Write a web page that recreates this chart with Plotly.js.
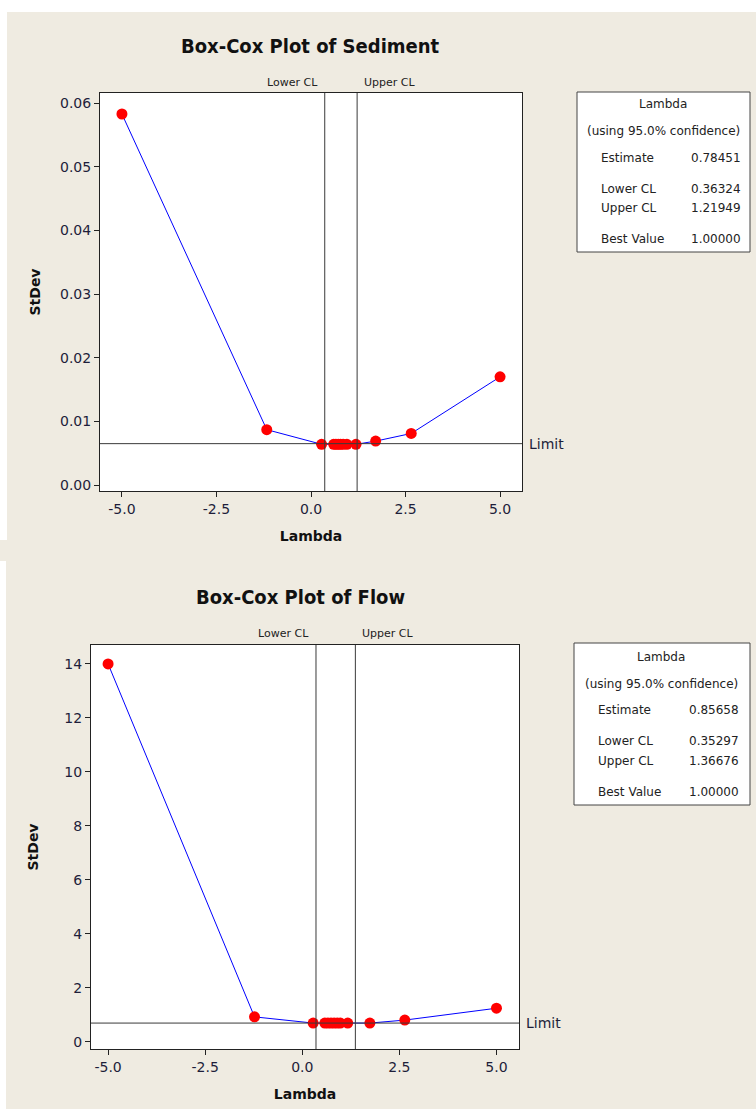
<!DOCTYPE html>
<html>
<head>
<meta charset="utf-8">
<script src="https://cdn.plot.ly/plotly-3.0.1.min.js"></script>
<style>html,body{margin:0;padding:0;background:#fff;}#chart{width:756px;height:1109px;}</style>
</head>
<body>
<div id="chart"></div>
<script>
// ---- Data ----
var sedLambda = [-5, -1.17, 0.28, 0.60, 0.66, 0.72, 0.78, 0.85, 0.95, 1.19, 1.71, 2.65, 5];
var sedStdev  = [0.0583, 0.0087, 0.0064, 0.0064, 0.0064, 0.0064, 0.0064, 0.0064, 0.0064, 0.0064, 0.0069, 0.0081, 0.0170];
var sedCL = [0.36324, 1.21949];
var sedLimit = 0.0065;

var flowLambda = [-5, -1.23, 0.28, 0.58, 0.66, 0.74, 0.82, 0.90, 0.98, 1.17, 1.74, 2.64, 5];
var flowStdev  = [14.0, 0.93, 0.70, 0.70, 0.70, 0.70, 0.70, 0.70, 0.70, 0.70, 0.70, 0.81, 1.25];
var flowCL = [0.35297, 1.36676];
var flowLimit = 0.70;

var titles = ["Box-Cox Plot of Sediment", "Box-Cox Plot of Flow"];
var xTickVals = [-5, -2.5, 0, 2.5, 5];
var xTickText = ["-5.0", "-2.5", "0.0", "2.5", "5.0"];
var sedYTicks = [0, 0.01, 0.02, 0.03, 0.04, 0.05, 0.06];
var flowYTicks = [0, 2, 4, 6, 8, 10, 12, 14];

var legendHeader = ["Lambda", "(using 95.0% confidence)"];
var legendLabels = ["Estimate", "Lower CL", "Upper CL", "Best Value"];
var sedLegendValues = ["0.78451", "0.36324", "1.21949", "1.00000"];
var flowLegendValues = ["0.85658", "0.35297", "1.36676", "1.00000"];

// ---- Helpers ----
var W = 756, H = 1109;
function px(x){ return x / W; }
function py(y){ return 1 - y / H; }

var beige = "#EFEBE1";
var tickColor = "#1e1e3a";
var tickFont = {family: "DejaVu Sans, Verdana, sans-serif", size: 14, color: tickColor};
var titleFont = {family: "DejaVu Sans Condensed, Liberation Sans Narrow, Arial Narrow, DejaVu Sans, sans-serif", size: 20, color: "#111"};
var axTitleFont = {family: "DejaVu Sans, Verdana, sans-serif", size: 14, color: "#111", weight: "bold"};
var smallFont = {family: "DejaVu Sans, Verdana, sans-serif", size: 12, color: "#222"};

var markerStyle = {color: "#FF0000", size: 11};
var lineStyle = {color: "#0000FF", width: 1};

var data = [
  {x: sedLambda, y: sedStdev, xaxis: "x", yaxis: "y", mode: "lines+markers", type: "scatter",
   line: lineStyle, marker: markerStyle, showlegend: false, hoverinfo: "x+y"},
  {x: flowLambda, y: flowStdev, xaxis: "x2", yaxis: "y2", mode: "lines+markers", type: "scatter",
   line: lineStyle, marker: markerStyle, showlegend: false, hoverinfo: "x+y"}
];

function xAxis(domain, range, anchor){
  return {
    domain: domain, range: range, anchor: anchor,
    tickvals: xTickVals, ticktext: xTickText,
    showgrid: false, zeroline: false,
    showline: true, mirror: true, linecolor: "#222", linewidth: 1,
    ticks: "outside", ticklen: 5, tickcolor: "#222",
    tickfont: tickFont,
    title: {text: "Lambda", font: axTitleFont, standoff: 15}
  };
}
function yAxis(domain, range, anchor, tickvals, fmt, standoff){
  return {
    domain: domain, range: range, anchor: anchor,
    tickvals: tickvals, tickformat: fmt,
    showgrid: false, zeroline: false,
    showline: true, mirror: true, linecolor: "#222", linewidth: 1,
    ticks: "outside", ticklen: 5, tickcolor: "#222",
    tickfont: tickFont,
    title: {text: "StDev", font: axTitleFont, standoff: standoff}
  };
}

var shapes = [
  // white margins of the screenshot
  {type: "rect", xref: "paper", yref: "paper", x0: 0, x1: 1, y0: py(12), y1: 1, fillcolor: "#fff", line: {width: 0}, layer: "below"},
  {type: "rect", xref: "paper", yref: "paper", x0: 0, x1: px(7), y0: py(540), y1: 1, fillcolor: "#fff", line: {width: 0}, layer: "below"},
  {type: "rect", xref: "paper", yref: "paper", x0: 0, x1: px(6), y0: 0, y1: py(561), fillcolor: "#fff", line: {width: 0}, layer: "below"},
  // legend boxes
  {type: "rect", xref: "paper", yref: "paper", x0: px(577), x1: px(750), y0: py(252), y1: py(92), fillcolor: "#fff", line: {color: "#444", width: 1}},
  {type: "rect", xref: "paper", yref: "paper", x0: px(574), x1: px(750), y0: py(805), y1: py(643), fillcolor: "#fff", line: {color: "#444", width: 1}}
];

var annotations = [];

function addPlotDecor(xa, ya, cl, limit, titleText, titleX, titleY, clLabelY){
  var xr = xa, yr = ya;
  cl.forEach(function(v){
    shapes.push({type: "line", xref: xr, yref: yr + " domain", x0: v, x1: v, y0: 0, y1: 1, line: {color: "#3a3a3a", width: 1}});
  });
  shapes.push({type: "line", xref: xr + " domain", yref: yr, x0: 0, x1: 1, y0: limit, y1: limit, line: {color: "#3a3a3a", width: 1}});
  annotations.push({text: "Lower CL", xref: xr, yref: "paper", x: cl[0], y: py(clLabelY), xanchor: "right", yanchor: "middle", xshift: -5, showarrow: false, font: {family: smallFont.family, size: 11, color: "#222"}});
  annotations.push({text: "Upper CL", xref: xr, yref: "paper", x: cl[1], y: py(clLabelY), xanchor: "left", yanchor: "middle", xshift: 5, showarrow: false, font: {family: smallFont.family, size: 11, color: "#222"}});
  annotations.push({text: "Limit", xref: xr + " domain", yref: yr, x: 1, y: limit, xanchor: "left", yanchor: "middle", xshift: 5, showarrow: false, font: {family: tickFont.family, size: 14, color: tickColor}});
  annotations.push({text: "<b>" + titleText + "</b>", xref: "paper", yref: "paper", x: px(titleX), y: py(titleY), xanchor: "center", yanchor: "middle", showarrow: false, font: titleFont});
}

function addLegend(cx, labelX, valueX, rows, values){
  annotations.push({text: legendHeader[0], xref: "paper", yref: "paper", x: px(cx), y: py(rows[0]), xanchor: "center", yanchor: "middle", showarrow: false, font: smallFont});
  annotations.push({text: legendHeader[1], xref: "paper", yref: "paper", x: px(cx), y: py(rows[1]), xanchor: "center", yanchor: "middle", showarrow: false, font: smallFont});
  for (var i = 0; i < legendLabels.length; i++){
    annotations.push({text: legendLabels[i], xref: "paper", yref: "paper", x: px(labelX), y: py(rows[i + 2]), xanchor: "left", yanchor: "middle", showarrow: false, font: smallFont});
    annotations.push({text: values[i], xref: "paper", yref: "paper", x: px(valueX), y: py(rows[i + 2]), xanchor: "left", yanchor: "middle", showarrow: false, font: smallFont});
  }
}

addPlotDecor("x", "y", sedCL, sedLimit, titles[0], 310, 46, 83);
addPlotDecor("x2", "y2", flowCL, flowLimit, titles[1], 300, 597, 633);
addLegend(663, 599, 689, [104, 131, 158, 189, 208, 239], sedLegendValues);
addLegend(661, 596, 687, [657, 684, 710, 741, 761, 792], flowLegendValues);

var layout = {
  width: W, height: H,
  margin: {l: 0, r: 0, t: 0, b: 0},
  paper_bgcolor: beige, plot_bgcolor: "#fff",
  showlegend: false,
  xaxis: xAxis([px(100), px(522)], [-5.58, 5.58], "y"),
  yaxis: yAxis([py(491), py(93)], [-0.00094, 0.0616], "x", sedYTicks, ".2f", 16),
  xaxis2: xAxis([px(91), px(519)], [-5.44, 5.58], "y2"),
  yaxis2: yAxis([py(1049), py(645)], [-0.26, 14.70], "x2", flowYTicks, "d", 22),
  shapes: shapes,
  annotations: annotations
};

Plotly.newPlot("chart", data, layout, {displayModeBar: false, staticPlot: true});
</script>
</body>
</html>
